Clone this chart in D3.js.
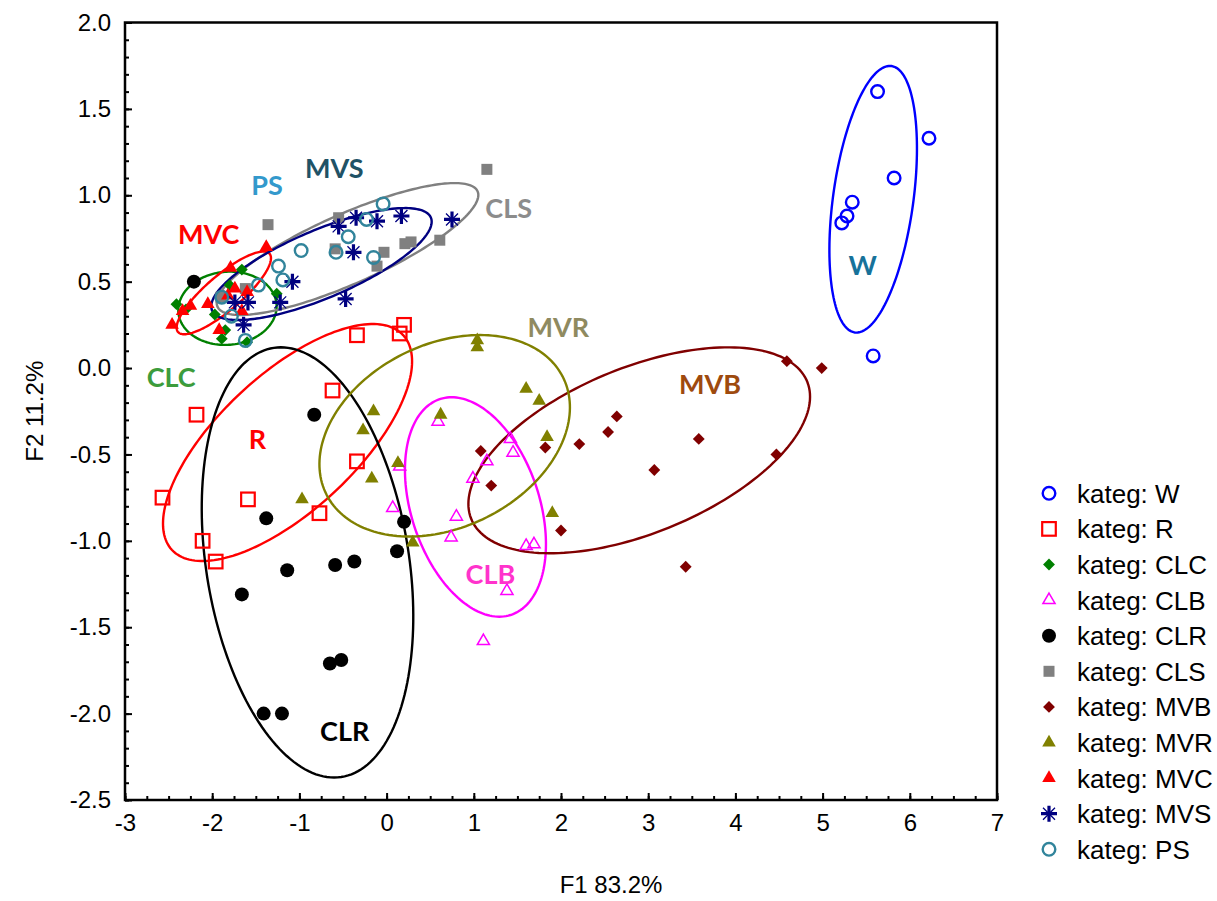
<!DOCTYPE html>
<html>
<head>
<meta charset="utf-8">
<script src="https://cdn.jsdelivr.net/npm/d3@7"></script>
<style>
  body { margin: 0; background: #fff; }
  svg { display: block; }
</style>
</head>
<body>
<div id="chart"></div>
<script>
// groups, in legend order
const categories = ["W", "R", "CLC", "CLB", "CLR", "CLS", "MVB", "MVR", "MVC", "MVS", "PS"];

// scores [F1, F2] per group
const ptsW = [[5.63, 1.60], [6.22, 1.33], [5.82, 1.10], [5.34, 0.96], [5.28, 0.88], [5.22, 0.84], [5.58, 0.07]];
const ptsR = [[0.20, 0.25], [0.15, 0.20], [-0.34, 0.19], [-0.62, -0.13], [-2.18, -0.27], [-0.34, -0.54],
              [-2.57, -0.75], [-1.59, -0.76], [-0.77, -0.84], [-2.11, -1.00], [-1.96, -1.12]];
const ptsCLC = [[-1.66, 0.57], [-2.41, 0.37], [-2.30, 0.34], [-1.26, 0.43], [-1.97, 0.31], [-1.85, 0.22],
                [-1.89, 0.17], [-1.60, 0.15], [-1.80, 0.48]];
const ptsCLB = [[0.59, -0.31], [1.42, -0.41], [1.45, -0.49], [1.15, -0.54], [0.99, -0.64], [0.15, -0.57],
                [0.07, -0.81], [0.80, -0.86], [0.74, -0.98], [1.60, -1.03], [1.69, -1.02], [1.38, -1.29], [1.11, -1.58]];
const ptsCLR = [[-2.21, 0.50], [-0.83, -0.27], [-1.38, -0.87], [0.20, -0.89], [0.12, -1.06], [-1.14, -1.17],
                [-0.59, -1.14], [-0.37, -1.12], [-1.66, -1.31], [-0.65, -1.71], [-0.52, -1.69], [-1.41, -2.00], [-1.20, -2.00]];
const ptsCLS = [[1.15, 1.15], [-1.36, 0.83], [-0.55, 0.87], [-0.59, 0.69], [-0.03, 0.67], [0.21, 0.72],
                [0.28, 0.73], [0.61, 0.74], [-0.11, 0.59], [-1.62, 0.46], [-1.90, 0.41]];
const ptsMVB = [[4.59, 0.04], [4.99, 0.00], [2.64, -0.28], [2.54, -0.37], [3.58, -0.41], [2.21, -0.44],
                [1.82, -0.46], [1.08, -0.48], [4.47, -0.50], [3.07, -0.59], [1.20, -0.68], [2.00, -0.94], [3.43, -1.15]];
const ptsMVR = [[1.04, 0.16], [1.04, 0.12], [1.60, -0.12], [1.75, -0.19], [1.84, -0.40], [0.62, -0.27],
                [0.13, -0.55], [1.90, -0.84], [0.30, -1.01], [-0.15, -0.25], [-0.27, -0.36], [-0.17, -0.64], [-0.97, -0.76]];
const ptsMVC = [[-1.38, 0.70], [-1.79, 0.58], [-1.74, 0.46], [-1.82, 0.42], [-2.05, 0.37], [-2.25, 0.36],
                [-2.34, 0.33], [-2.46, 0.25], [-1.92, 0.22], [-1.66, 0.33], [-1.60, 0.44]];
const ptsMVS = [[-0.55, 0.82], [-0.35, 0.87], [-0.11, 0.85], [0.17, 0.88], [0.75, 0.86], [-0.38, 0.67],
                [-1.08, 0.50], [-1.74, 0.38], [-1.59, 0.38], [-1.22, 0.38], [-1.64, 0.25], [-0.47, 0.40]];
const ptsPS = [[-0.04, 0.95], [-0.23, 0.86], [-0.44, 0.76], [-0.58, 0.67], [-0.15, 0.64], [-0.98, 0.68],
               [-1.24, 0.59], [-1.19, 0.51], [-1.47, 0.48], [-1.89, 0.41], [-1.78, 0.30], [-1.62, 0.16]];

// confidence ellipses: centre and two conjugate half-diameters, data units
const ellipseGroups = ["W", "R", "CLC", "CLB", "CLR", "CLS", "MVB", "MVR", "MVC", "MVS"];
const ellipseCentre = [[5.58, 0.977], [-1.136, -0.431], [-1.825, 0.346], [1.019, -0.804], [-0.907, -1.125],
                       [-0.448, 0.689], [2.897, -0.476], [0.666, -0.392], [-1.867, 0.435], [-0.747, 0.602]];
const ellipseP = [[0.21, 0.771], [1.325, 0.622], [0.029, 0.212], [-0.273, 0.635], [-0.305, 1.245],
                  [1.5, 0.3125], [1.959, 0.31], [0.405, 0.583], [0.541, 0.201], [1.264, 0.245]];
const ellipseQ = [[0.456, -0.032], [0.533, -0.289], [0.563, 0], [0.761, 0], [1.174, 0],
                  [0, -0.219], [0, -0.509], [1.378, 0], [0, -0.13], [0, -0.212]];

// group name annotations
const labelText = ["W", "MVS", "PS", "CLS", "MVC", "CLC", "R", "MVR", "MVB", "CLB", "CLR"];
const labelPos = [[5.46, 0.60], [-0.60, 1.16], [-1.37, 1.06], [1.40, 0.93], [-2.04, 0.78], [-2.47, -0.05],
                  [-1.48, -0.41], [1.97, 0.24], [3.71, -0.09], [1.19, -1.19], [-0.48, -2.10]];
const labelColor = ["#17729a", "#1f5266", "#3399cc", "#8c8c8c", "#ff0000", "#3c9c3c",
                    "#ff0000", "#8f8a60", "#9e4a0e", "#ff33cc", "#000000"];

const xTicks = [-3, -2, -1, 0, 1, 2, 3, 4, 5, 6, 7];
const yTicks = [-2.5, -2.0, -1.5, -1.0, -0.5, 0.0, 0.5, 1.0, 1.5, 2.0];

const points = { W: ptsW, R: ptsR, CLC: ptsCLC, CLB: ptsCLB, CLR: ptsCLR, CLS: ptsCLS,
                 MVB: ptsMVB, MVR: ptsMVR, MVC: ptsMVC, MVS: ptsMVS, PS: ptsPS };

const colors = { W: "#0000ff", R: "#ff0000", CLC: "#008000", CLB: "#ff00ff", CLR: "#000000", CLS: "#808080",
                 MVB: "#800000", MVR: "#808000", MVC: "#ff0000", MVS: "#000080", PS: "#31849b" };

const width = 1217;
const height = 901;
const plot = { left: 125, right: 997, top: 22.5, bottom: 800 };
const tickFont = "'Liberation Sans', Arial, sans-serif";

const svg = d3.select("#chart")
    .append("svg")
    .attr("width", width)
    .attr("height", height)
    .attr("viewBox", `0 0 ${width} ${height}`);

const x = d3.scaleLinear().domain([-3, 7]).range([plot.left, plot.right]);
const y = d3.scaleLinear().domain([-2.5, 2]).range([plot.bottom, plot.top]);

// marker shapes
function marker(sel, cat) {
    const c = colors[cat];
    if (cat === "W" || cat === "PS") {
        sel.append("circle").attr("r", 6.3).style("fill", "none").style("stroke", c).style("stroke-width", 2.4);
    } else if (cat === "CLR") {
        sel.append("circle").attr("r", 7).style("fill", c);
    } else if (cat === "R") {
        sel.append("rect").attr("x", -6.8).attr("y", -6.8).attr("width", 13.6).attr("height", 13.6)
            .style("fill", "none").style("stroke", c).style("stroke-width", 2.2);
    } else if (cat === "CLS") {
        sel.append("rect").attr("x", -5.5).attr("y", -5.5).attr("width", 11).attr("height", 11).style("fill", c);
    } else if (cat === "CLC" || cat === "MVB") {
        sel.append("path").attr("d", d3.symbol(d3.symbolSquare, 70)()).attr("transform", "rotate(45)").style("fill", c);
    } else if (cat === "MVR" || cat === "MVC") {
        sel.append("path").attr("d", d3.symbol(d3.symbolTriangle, 80)()).style("fill", c);
    } else if (cat === "CLB") {
        sel.append("path").attr("d", d3.symbol(d3.symbolTriangle, 64)())
            .style("fill", "none").style("stroke", c).style("stroke-width", 1.5);
    } else if (cat === "MVS") {
        sel.append("path").attr("d", "M-8,0H8M0,-8V8")
            .style("stroke", c).style("stroke-width", 3.2).style("fill", "none");
        sel.append("path").attr("d", "M-6,-6L6,6M-6,6L6,-6")
            .style("stroke", c).style("stroke-width", 1.3).style("fill", "none");
    }
}

// ellipses
const ellipseLine = d3.line()
    .x(d => x(d[0]))
    .y(d => y(d[1]))
    .curve(d3.curveLinearClosed);

svg.selectAll(".ellipse")
    .data(ellipseGroups)
    .join("path")
        .attr("class", "ellipse")
        .attr("d", (g, i) => {
            const [cx, cy] = ellipseCentre[i];
            const [px, py] = ellipseP[i];
            const [qx, qy] = ellipseQ[i];
            const pts = d3.range(0, 360, 2).map(a => {
                const t = a * Math.PI / 180;
                return [cx + Math.cos(t) * px + Math.sin(t) * qx, cy + Math.cos(t) * py + Math.sin(t) * qy];
            });
            return ellipseLine(pts);
        })
        .style("fill", "none")
        .style("stroke", g => colors[g])
        .style("stroke-width", 2.4);

// points
categories.forEach(cat => {
    svg.selectAll(`.pt-${cat}`)
        .data(points[cat])
        .join("g")
            .attr("class", `pt-${cat}`)
            .attr("transform", d => `translate(${x(d[0])},${y(d[1])})`)
            .each(function() { marker(d3.select(this), cat); });
});

// group labels
svg.selectAll(".group-label")
    .data(labelText)
    .join("text")
        .attr("class", "group-label")
        .attr("x", (d, i) => x(labelPos[i][0]))
        .attr("y", (d, i) => y(labelPos[i][1]))
        .attr("text-anchor", "middle")
        .attr("dominant-baseline", "central")
        .style("font-family", "Lato, 'Open Sans', sans-serif")
        .style("font-weight", 700)
        .style("font-size", "27px")
        .style("fill", (d, i) => labelColor[i])
        .text(d => d);

// axes
svg.append("g")
    .attr("transform", `translate(0,${plot.bottom})`)
    .call(d3.axisBottom(x).tickValues(xTicks).tickSize(-7).tickPadding(14).tickFormat(d => String(d)));
svg.append("g")
    .attr("transform", `translate(0,${plot.bottom})`)
    .call(d3.axisBottom(x).tickValues(d3.range(-3, 7.01, 0.25)).tickSize(-4).tickFormat(""));

svg.append("g")
    .attr("transform", `translate(${plot.left},0)`)
    .call(d3.axisLeft(y).tickValues(yTicks).tickSize(-7).tickPadding(14).tickFormat(d => d.toFixed(1)));
svg.append("g")
    .attr("transform", `translate(${plot.left},0)`)
    .call(d3.axisLeft(y).tickValues(d3.range(-25, 21, 1).map(v => v / 10)).tickSize(-4).tickFormat(""));

svg.selectAll(".domain").remove();
svg.selectAll(".tick line").style("stroke", "#000").style("stroke-width", 2);
svg.selectAll(".tick text")
    .style("font-family", tickFont)
    .style("font-size", "24px")
    .style("fill", "#000");

svg.append("rect")
    .attr("x", plot.left)
    .attr("y", plot.top)
    .attr("width", plot.right - plot.left)
    .attr("height", plot.bottom - plot.top)
    .style("fill", "none")
    .style("stroke", "#000")
    .style("stroke-width", 2.5);

svg.append("text")
    .attr("x", 611)
    .attr("y", 893)
    .attr("text-anchor", "middle")
    .style("font-family", tickFont)
    .style("font-size", "24px")
    .text("F1 83.2%");

svg.append("text")
    .attr("transform", `translate(43,${(plot.top + plot.bottom) / 2}) rotate(-90)`)
    .attr("text-anchor", "middle")
    .style("font-family", tickFont)
    .style("font-size", "24px")
    .text("F2 11.2%");

// legend
const legend = svg.selectAll(".legend")
    .data(categories)
    .join("g")
        .attr("class", "legend")
        .attr("transform", (d, i) => `translate(1049,${493.3 + i * 35.6})`);

legend.each(function(d) { marker(d3.select(this), d); });

legend.append("text")
    .attr("x", 28)
    .attr("y", 9.5)
    .style("font-family", tickFont)
    .style("font-size", "26px")
    .style("fill", "#000")
    .text(d => `kateg: ${d}`);
</script>
</body>
</html>
